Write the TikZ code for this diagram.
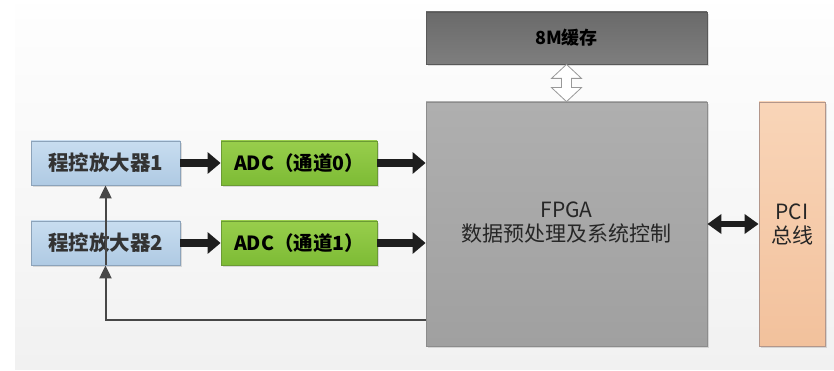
\documentclass[tikz,border=0pt]{standalone}
\usepackage{fontspec}
\setmainfont{Noto Sans CJK SC}
\usetikzlibrary{arrows.meta,shadows,calc}

\definecolor{ampTop}{HTML}{C8DDF0}
\definecolor{ampBot}{HTML}{AFCAE3}
\definecolor{ampLine}{HTML}{8CA3BA}
\definecolor{adcTop}{HTML}{98CE4C}
\definecolor{adcBot}{HTML}{7DBB35}
\definecolor{adcLine}{HTML}{6B9B34}
\definecolor{memTop}{HTML}{6A6A6A}
\definecolor{memBot}{HTML}{7E7E7E}
\definecolor{fpgaTop}{HTML}{AFAFAF}
\definecolor{fpgaBot}{HTML}{A0A0A0}
\definecolor{pciTop}{HTML}{F9D5B8}
\definecolor{pciBot}{HTML}{F2C19C}
\definecolor{pciLine}{HTML}{B3968A}
\definecolor{bgTop}{HTML}{FEFEFE}
\definecolor{bgBot}{HTML}{F1F1F1}
\definecolor{arrowDark}{HTML}{1E1E1E}
\definecolor{fbLine}{HTML}{474747}

\tikzset{
  blockshadow/.style={drop shadow={shadow xshift=2pt,shadow yshift=-2pt,fill=black,opacity=0.12}},
  block/.style={rectangle,inner sep=0pt,line width=0.8pt,blockshadow},
  ampbox/.style={block,draw=ampLine,top color=ampTop,bottom color=ampBot,
    minimum width=149pt,minimum height=44pt,text=black!80,
    font=\fontsize{20.5}{24}\selectfont\bfseries},
  adcbox/.style={block,draw=adcLine,top color=adcTop,bottom color=adcBot,
    minimum width=156pt,minimum height=44pt,text=black,
    font=\fontsize{19.5}{23}\selectfont\bfseries},
  membox/.style={block,draw=black!65,top color=memTop,bottom color=memBot,
    minimum width=281pt,minimum height=52pt,text=black,
    font=\fontsize{18}{21}\selectfont\bfseries},
  fpgabox/.style={block,draw=black!45,top color=fpgaTop,bottom color=fpgaBot,
    minimum width=281pt,minimum height=244pt},
  pcibox/.style={block,draw=pciLine,top color=pciTop,bottom color=pciBot,
    minimum width=66pt,minimum height=244pt},
  bodytext/.style={font=\fontsize{21}{24}\selectfont,text=black!85,align=center},
  thickarrow/.style={draw=arrowDark,line width=8pt,
    -{Triangle[width=21pt,length=13pt]}},
  busarrow/.style={draw=arrowDark,line width=6pt,
    {Triangle[width=19pt,length=14pt]}-{Triangle[width=19pt,length=14pt]}},
  feedback/.style={draw=fbLine,line width=2pt,
    -{Triangle[width=12pt,length=13pt]}},
  hollow/.style={draw=black!40,fill=white,line width=0.8pt,line join=miter}
}

\begin{document}
\begin{tikzpicture}[x=1pt,y=-1pt]
  \useasboundingbox (0,0) rectangle (834,371);
  % panel behind the blocks
  \shade[top color=bgTop,bottom color=bgBot] (15,5) rectangle (834,369);

  % blocks
  \node[membox]  (mem)  at (566.5,38)  {8M缓存};
  \node[fpgabox] (fpga) at (566.5,224) {};
  \node[pcibox]  (pci)  at (792,224)   {};
  \node[ampbox]  (amp1) at (105.5,163) {程控放大器1};
  \node[ampbox]  (amp2) at (105.5,243) {程控放大器2};
  \node[adcbox]  (adc0) at (299,163)   {ADC（通道0）};
  \node[adcbox]  (adc1) at (299,243)   {ADC（通道1）};

  % block captions
  \node[bodytext] (fpgaText) at (566.5,223) {FPGA\\数据预处理及系统控制};
  \node[bodytext] (pciText)  at (792,224)   {PCI\\总线};

  % signal chain
  \draw[thickarrow] (amp1.east) -- (adc0.west);
  \draw[thickarrow] (amp2.east) -- (adc1.west);
  \draw[thickarrow] (adc0.east) -- (adc0.east -| fpga.west);
  \draw[thickarrow] (adc1.east) -- (adc1.east -| fpga.west);

  % FPGA <-> PCI bus
  \draw[busarrow] (fpga.east) -- (pci.west);

  % gain control back to the amplifiers
  \coordinate (fbStart) at ([yshift=26pt]fpga.south west);
  \draw[feedback] (fbStart) -| (amp2.south);
  \draw[feedback] (amp2.south) -- (amp1.south);

  % FPGA <-> memory (hollow double arrow)
  \coordinate (mt) at (mem.south);
  \coordinate (ft) at (fpga.north);
  \draw[hollow]
    (mt) -- ($(mt)+(15,14)$) -- ($(mt)+(5,14)$) -- ($(ft)+(5,-14)$)
    -- ($(ft)+(15,-14)$) -- (ft) -- ($(ft)+(-15,-14)$) -- ($(ft)+(-5,-14)$)
    -- ($(mt)+(-5,14)$) -- ($(mt)+(-15,14)$) -- cycle;
\end{tikzpicture}
\end{document}
